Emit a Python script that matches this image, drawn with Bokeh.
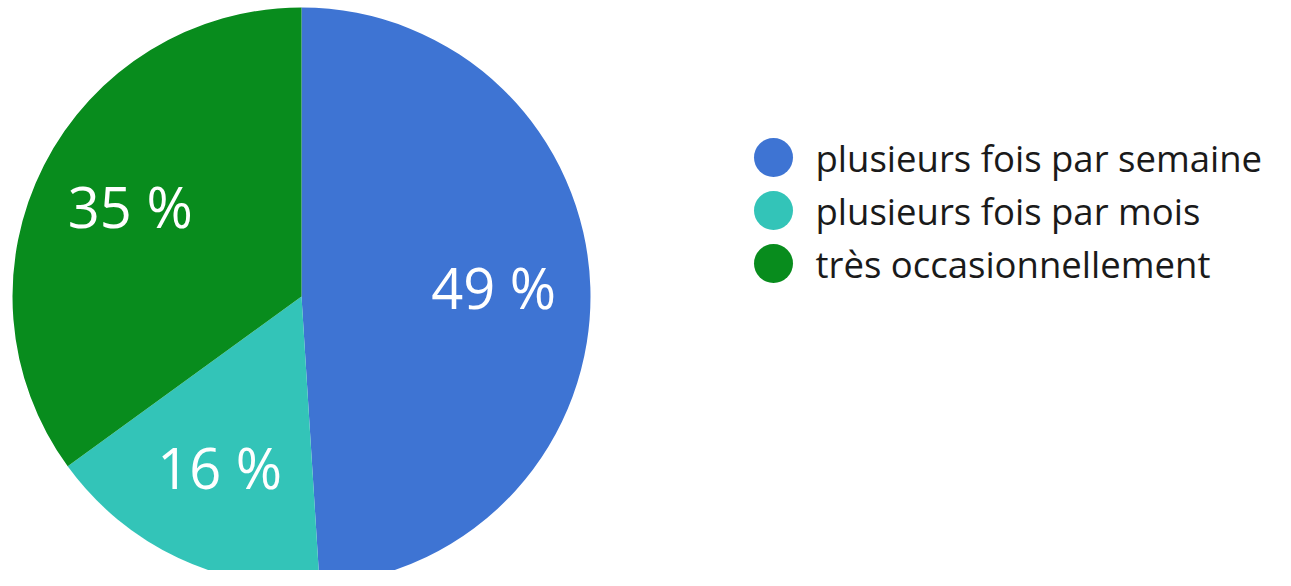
import math
from bokeh.plotting import figure
from bokeh.models import Range1d, ColumnDataSource
from bokeh.core.properties import value
from bokeh.embed import file_html
from bokeh.resources import INLINE

categories = ["plusieurs fois par semaine", "plusieurs fois par mois", "très occasionnellement"]
shares = [49, 16, 35]
labels = ["49 %", "16 %", "35 %"]
colors = ["#3e74d3", "#33c4b8", "#088c1d"]

W, H = 1275, 570
p = figure(width=W, height=H, output_backend="svg", toolbar_location=None,
           x_range=Range1d(0, W), y_range=Range1d(-H, 0),
           min_border=0, outline_line_color=None)
p.axis.visible = False
p.grid.visible = False
p.background_fill_color = "white"
p.border_fill_color = "white"

cx, cy, r = 301, -296, 289
total = sum(shares)
starts, ends, lx, ly = [], [], [], []
acc = 0.0
for s in shares:
    a0 = math.pi / 2 - 2 * math.pi * acc / total
    a1 = math.pi / 2 - 2 * math.pi * (acc + s) / total
    starts.append(a0)
    ends.append(a1)
    mid = (a0 + a1) / 2
    lx.append(cx + 0.665 * r * math.cos(mid))
    ly.append(cy + 0.665 * r * math.sin(mid) + 3)
    acc += s

src = ColumnDataSource(dict(start=starts, end=ends, color=colors, lx=lx, ly=ly, label=labels))
p.wedge(x=cx, y=cy, radius=r, start_angle="start", end_angle="end", direction="clock",
        fill_color="color", line_color=None, source=src)
p.text(x="lx", y="ly", text="label", source=src, text_color="white",
       text_font=value("Open Sans"), text_font_size="56px", text_align="center",
       text_baseline="middle")

leg_y = [-157 - 53 * i for i in range(len(categories))]
leg = ColumnDataSource(dict(y=leg_y, color=colors, name=categories))
p.scatter(x=773, y="y", size=39, fill_color="color", line_color=None, source=leg)
p.text(x=815, y="y", text="name", source=leg, text_color="#1a1a1a",
       text_font=value("Open Sans"), text_font_size="36.5px", text_align="left",
       text_baseline="middle")

open("out.html", "w").write(file_html(p, INLINE))
